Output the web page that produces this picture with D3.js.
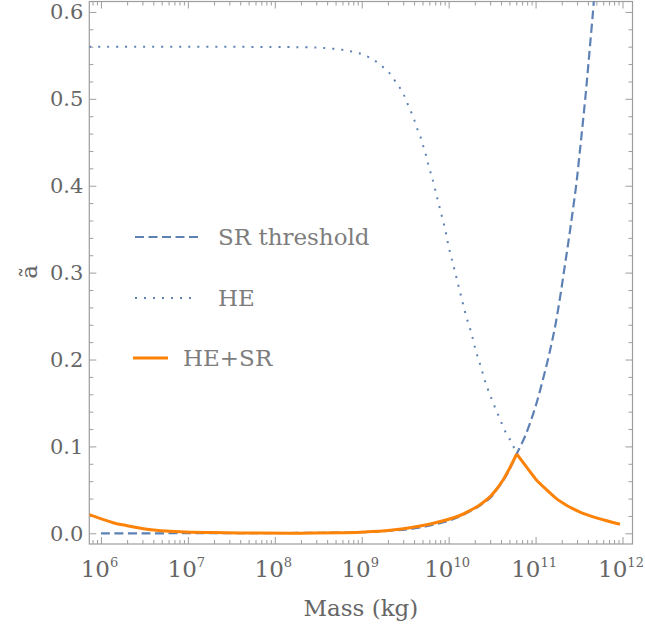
<!DOCTYPE html>
<html>
<head>
<meta charset="utf-8">
<script src="https://cdn.jsdelivr.net/npm/d3@7"></script>
<style>
  html, body { margin: 0; padding: 0; background: #fff; }
  svg { display: block; font-family: 'DejaVu Serif', serif; }
</style>
</head>
<body>
<svg id="chart" width="645" height="628"></svg>
<script>
// values: log10 of the mass (kg) and the spin a~
const heLogMass = [5.866, 8.35, 8.56, 8.77, 8.87, 8.97, 9.06, 9.15, 9.23, 9.31, 9.37, 9.43, 9.48, 9.52, 9.56, 9.60, 9.63, 9.67, 9.70, 9.73, 9.78, 9.81, 9.86, 9.91, 9.96, 10.00, 10.05, 10.10, 10.15, 10.20, 10.26, 10.31, 10.37, 10.43, 10.50, 10.58, 10.66, 10.72, 10.755, 10.783]
const heSpin = [0.560, 0.5593, 0.5585, 0.5566, 0.5547, 0.5524, 0.549, 0.5439, 0.5378, 0.5306, 0.5225, 0.514, 0.5056, 0.496, 0.4868, 0.4772, 0.4676, 0.458, 0.448, 0.4385, 0.4189, 0.4093, 0.3893, 0.3694, 0.3499, 0.3298, 0.3099, 0.29, 0.27, 0.2504, 0.2309, 0.211, 0.1917, 0.1718, 0.1531, 0.1338, 0.1155, 0.1054, 0.0978, 0.0913]

const srLogMass = [6.0, 6.5, 7.0, 7.5, 8.0, 8.5, 9.0, 9.3, 9.6, 9.8, 10.0, 10.13, 10.25, 10.36, 10.48, 10.55, 10.63, 10.69, 10.75, 10.783, 10.885, 10.993, 11.083, 11.163, 11.228, 11.283, 11.332, 11.381, 11.424, 11.47, 11.503, 11.537, 11.57, 11.6, 11.627, 11.659, 11.68]
const srSpin = [0.0, 0.0, 0.0001, 0.0002, 0.0003, 0.0006, 0.0012, 0.0028, 0.0055, 0.0095, 0.0145, 0.0195, 0.0255, 0.032, 0.041, 0.050, 0.061, 0.0715, 0.084, 0.0913, 0.1131, 0.1439, 0.1764, 0.209, 0.2397, 0.2723, 0.305, 0.3376, 0.3683, 0.4028, 0.4334, 0.4661, 0.4987, 0.5312, 0.562, 0.5984, 0.625]

const bothLogMass = [5.866, 6.14, 6.30, 6.53, 6.91, 7.29, 7.83, 8.3, 8.75, 8.98, 9.33, 9.79, 10.13, 10.25, 10.36, 10.475, 10.553, 10.629, 10.686, 10.783, 10.936, 11.005, 11.128, 11.258, 11.511, 11.971]
const bothSpin = [0.0215, 0.0122, 0.0088, 0.0048, 0.0018, 0.0008, 0.0003, 0.0002, 0.0007, 0.0013, 0.0035, 0.0108, 0.0205, 0.0265, 0.033, 0.042, 0.051, 0.062, 0.072, 0.0913, 0.071, 0.062, 0.050, 0.0385, 0.0245, 0.0104]

const xDecades = [6, 7, 8, 9, 10, 11, 12]
const yMajorTicks = [0, 0.1, 0.2, 0.3, 0.4, 0.5, 0.6]
const legendLabels = ['SR threshold', 'HE', 'HE+SR']

const colors = { blue: '#5e81b5', orange: '#fd8208', frame: '#9d9d9d', label: '#666' }
const sizes = { left: 89.3, right: 632.5, top: 1.5, bottom: 544 }

const xScale = d3.scaleLog()
  .domain([Math.pow(10, 5.866), Math.pow(10, 12.115)])
  .range([sizes.left, sizes.right])
const yScale = d3.scaleLinear()
  .domain([-0.0123, 0.612])
  .range([sizes.bottom, sizes.top])

const svg = d3.select('#chart')

/**
 * @param {number[]} logMass log10 of the masses
 * @param {number[]} spin The spin values
 * @returns {object[]} points for d3.line
 */
function toPoints (logMass, spin) {
  return logMass.map((m, i) => ({ mass: Math.pow(10, m), spin: spin[i] }))
}

const line = d3.line()
  .x(d => xScale(d.mass))
  .y(d => yScale(d.spin))
  .curve(d3.curveCatmullRom.alpha(0.5))

/**
 *
 */
function drawFrame () {
  // minor ticks: 2..9 x 10^n inside the domain
  const minorX = []
  for (let e = 5; e <= 12; e++) {
    for (let k = 2; k <= 9; k++) {
      const v = k * Math.pow(10, e)
      if (v > xScale.domain()[0] && v < xScale.domain()[1]) minorX.push(v)
    }
  }
  const minorY = d3.range(0, 0.61, 0.02).filter(v => Math.abs(v * 10 - Math.round(v * 10)) > 0.01)
  const majorX = xDecades.map(e => Math.pow(10, e))

  const axes = [
    { axis: d3.axisBottom(xScale), tr: `translate(0, ${sizes.bottom})`, major: majorX, minor: minorX },
    { axis: d3.axisTop(xScale), tr: `translate(0, ${sizes.top})`, major: majorX, minor: minorX },
    { axis: d3.axisLeft(yScale), tr: `translate(${sizes.left}, 0)`, major: yMajorTicks, minor: minorY },
    { axis: d3.axisRight(yScale), tr: `translate(${sizes.right}, 0)`, major: yMajorTicks, minor: minorY }
  ]
  axes.forEach(a => {
    svg.append('g')
      .attr('transform', a.tr)
      .call(a.axis.tickValues(a.major).tickSize(-7).tickSizeOuter(0).tickFormat(''))
      .call(g => g.select('.domain').remove())
    svg.append('g')
      .attr('transform', a.tr)
      .call(a.axis.tickValues(a.minor).tickSize(-4).tickSizeOuter(0).tickFormat(''))
      .call(g => g.select('.domain').remove())
  })
  svg.selectAll('.tick line').attr('stroke', colors.frame)

  svg.append('rect')
    .attr('x', sizes.left)
    .attr('y', sizes.top)
    .attr('width', sizes.right - sizes.left)
    .attr('height', sizes.bottom - sizes.top)
    .attr('fill', 'none')
    .attr('stroke', colors.frame)
    .attr('stroke-width', 1.2)

  // tick labels
  svg.append('g')
    .selectAll('text')
    .data(yMajorTicks)
    .enter()
    .append('text')
    .attr('x', sizes.left - 6)
    .attr('y', d => yScale(d))
    .attr('dy', '0.36em')
    .attr('text-anchor', 'end')
    .attr('fill', colors.label)
    .style('font-size', '21px')
    .text(d => d.toFixed(1))

  const xl = svg.append('g')
    .selectAll('text')
    .data(xDecades)
    .enter()
    .append('text')
    .attr('x', d => xScale(Math.pow(10, d)) - 1.5)
    .attr('y', 577)
    .attr('text-anchor', 'middle')
    .attr('fill', colors.label)
    .style('font-size', '23px')
  xl.append('tspan').text('10')
  xl.append('tspan')
    .attr('dy', -10)
    .style('font-size', '13px')
    .text(d => d)

  svg.append('text')
    .attr('x', (sizes.left + sizes.right) / 2)
    .attr('y', 616)
    .attr('text-anchor', 'middle')
    .attr('fill', colors.label)
    .style('font-size', '23px')
    .text('Mass (kg)')

  svg.append('text')
    .attr('transform', 'translate(37, 272) rotate(-90)')
    .attr('text-anchor', 'middle')
    .attr('fill', colors.label)
    .style('font-size', '23px')
    .text('ã')
}

/**
 *
 */
function drawCurves () {
  svg.append('clipPath')
    .attr('id', 'plotClip')
    .append('rect')
    .attr('x', sizes.left)
    .attr('y', sizes.top)
    .attr('width', sizes.right - sizes.left)
    .attr('height', sizes.bottom - sizes.top)

  const g = svg.append('g').attr('clip-path', 'url(#plotClip)')

  g.append('path')
    .datum(toPoints(srLogMass, srSpin))
    .attr('d', line)
    .attr('fill', 'none')
    .attr('stroke', colors.blue)
    .attr('stroke-width', 2.2)
    .attr('stroke-dasharray', '9,4.5')

  g.append('path')
    .datum(toPoints(heLogMass, heSpin))
    .attr('d', line)
    .attr('fill', 'none')
    .attr('stroke', colors.blue)
    .attr('stroke-width', 2)
    .attr('stroke-dasharray', '2,7')

  // HE+SR has a cusp at its maximum, so draw the two branches apart
  const both = toPoints(bothLogMass, bothSpin)
  const peak = d3.maxIndex(both, d => d.spin)
  ;[both.slice(0, peak + 1), both.slice(peak)].forEach(branch => {
    g.append('path')
      .datum(branch)
      .attr('d', line)
      .attr('fill', 'none')
      .attr('stroke', colors.orange)
      .attr('stroke-width', 3)
      .attr('stroke-linejoin', 'round')
  })
}

/**
 *
 */
function drawLegend () {
  const entries = [
    { label: legendLabels[0], y: 237, x1: 135, x2: 198, tx: 218, dash: '9,4.5', color: colors.blue, w: 2.2 },
    { label: legendLabels[1], y: 298, x1: 135, x2: 198, tx: 218, dash: '2,7', color: colors.blue, w: 2 },
    { label: legendLabels[2], y: 358, x1: 133, x2: 168, tx: 183, dash: null, color: colors.orange, w: 3 }
  ]
  const legend = svg.append('g')
  entries.forEach(e => {
    legend.append('line')
      .attr('x1', e.x1)
      .attr('x2', e.x2)
      .attr('y1', e.y)
      .attr('y2', e.y)
      .attr('stroke', e.color)
      .attr('stroke-width', e.w)
      .attr('stroke-dasharray', e.dash)
    legend.append('text')
      .attr('x', e.tx)
      .attr('y', e.y)
      .attr('dy', '0.36em')
      .attr('fill', '#7d7d7d')
      .style('font-size', '23px')
      .text(e.label)
  })
}

drawFrame()
drawCurves()
drawLegend()
</script>
</body>
</html>
